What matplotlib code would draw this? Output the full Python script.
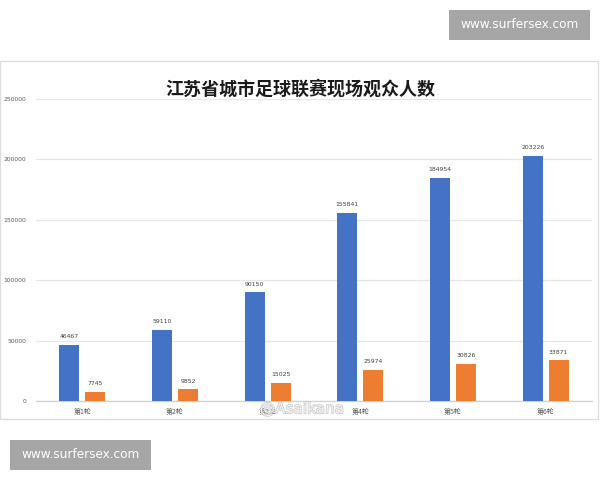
import matplotlib
matplotlib.use("Agg")
import matplotlib.pyplot as plt
import matplotlib.patches as patches
import matplotlib.patheffects as pe
import numpy as np

plt.rcParams['font.family'] = ['Noto Sans CJK SC', 'DejaVu Sans']

title = "江苏省城市足球联赛现场观众人数"
rounds = ["第1轮", "第2轮", "第3轮", "第4轮", "第5轮", "第6轮"]
series_a = [46467, 59110, 90150, 155841, 184954, 203226]
series_b = [7745, 9852, 15025, 25974, 30826, 33871]
y_ticks = [0, 50000, 100000, 150000, 200000, 250000]

BLUE = "#4472C4"
ORANGE = "#ED7D31"
W, H = 600, 480

fig = plt.figure(figsize=(6, 4.8), dpi=100)
fig.patch.set_facecolor("white")

# chart panel border
fig.patches.append(patches.Rectangle((0 / W, 1 - 419 / H), 598 / W, (419 - 61) / H,
                                     transform=fig.transFigure, fill=False,
                                     edgecolor="#dcdcdc", linewidth=1.0))

ax = fig.add_axes([36 / W, 1 - 401 / H, (592 - 36) / W, (401 - 99) / H])
x = np.arange(len(rounds))
bw = 0.216
off = 0.14
bars_a = ax.bar(x - off, series_a, bw, color=BLUE, zorder=3)
bars_b = ax.bar(x + off, series_b, bw, color=ORANGE, zorder=3)

for bars in (bars_a, bars_b):
    for b in bars:
        ax.annotate(f"{int(b.get_height())}", (b.get_x() + b.get_width() / 2, b.get_height()),
                    xytext=(0, 4), textcoords="offset points", ha="center", va="bottom",
                    fontsize=4.4, color="#404040", family="DejaVu Sans")

ax.set_xlim(-0.5, len(rounds) - 0.5)
ax.set_ylim(0, 250000)
ax.set_yticks(y_ticks)
ax.set_yticklabels([str(v) for v in y_ticks], fontsize=4.3, color="#595959", family="DejaVu Sans")
ax.set_xticks(x)
ax.set_xticklabels(rounds, fontsize=5, color="#595959")
ax.tick_params(axis="both", length=0)
ax.tick_params(axis="y", pad=7)
ax.tick_params(axis="x", pad=5)
ax.grid(axis="y", color="#e6e6e6", linewidth=0.9, zorder=0)
for s in ["top", "right", "left"]:
    ax.spines[s].set_visible(False)
ax.spines["bottom"].set_color("#d0d0d0")
ax.spines["bottom"].set_linewidth(0.9)

fig.text(0.5, 1 - 89 / H, title, ha="center", va="center", fontsize=13,
         fontweight="bold", color="#1a1a1a")

# watermarks
for (x0, y0, x1, y1) in [(449, 10, 590, 40), (10, 440, 151, 470)]:
    fig.patches.append(patches.Rectangle((x0 / W, 1 - y1 / H), (x1 - x0) / W, (y1 - y0) / H,
                                         transform=fig.transFigure, facecolor="#a6a6a6",
                                         edgecolor="none"))
    fig.text((x0 + x1) / 2 / W, 1 - (y0 + y1) / 2 / H, "www.surfersex.com", ha="center",
             va="center", fontsize=8.7, color="white", family="DejaVu Sans")

fig.text(302 / W, 1 - 409 / H, "@Asaikana", ha="center", va="center", fontsize=11,
         color="#f6f6f6", family="DejaVu Sans", alpha=0.9,
         path_effects=[pe.withStroke(linewidth=1.0, foreground="#c4c4c4")])

fig.savefig("out.png", dpi=100, facecolor="white")
